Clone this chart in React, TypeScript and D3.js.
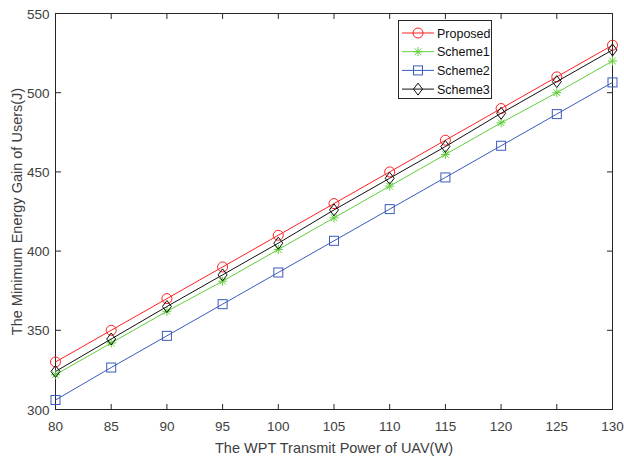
import React from "react";
import * as d3 from "d3";

const powers = [80, 85, 90, 95, 100, 105, 110, 115, 120, 125, 130];
const proposed = [330, 350, 370, 390, 410, 430, 450, 470, 490, 510, 530];
const scheme1 = [322, 342, 362, 381, 401, 421, 441, 461, 481, 500, 520];
const scheme2 = [306, 326.5, 346.5, 366.5, 386.5, 406.5, 426.5, 446.5, 466.5, 486.5, 506.5];
const scheme3 = [324, 344.5, 365, 385, 405, 426, 446, 466, 487, 507, 527];
const xTicks = [80, 85, 90, 95, 100, 105, 110, 115, 120, 125, 130];
const yTicks = [300, 350, 400, 450, 500, 550];
const seriesNames = ["Proposed", "Scheme1", "Scheme2", "Scheme3"];

const colors = ["#ff2020", "#5fcf3a", "#3a5bbd", "#111111"];
const markers = ["circle", "star", "square", "diamond"];

const L = 55.5, R = 612.5, T = 13.5, B = 409.5;
const FONT = "'Liberation Sans', Arial, sans-serif";
const TXT = "#404040";

function Marker({ kind, x, y, color }: { kind: string; x: number; y: number; color: string }) {
  if (kind === "circle") return <circle cx={x} cy={y} r={5} fill="none" stroke={color} strokeWidth={1} />;
  if (kind === "square") return <rect x={x - 4.5} y={y - 4.5} width={9} height={9} fill="none" stroke={color} strokeWidth={1} />;
  if (kind === "diamond")
    return <path d={`M${x},${y - 6}L${x + 4.5},${y}L${x},${y + 6}L${x - 4.5},${y}Z`} fill="none" stroke={color} strokeWidth={1} />;
  const s = 4.5, d = 3.3;
  return (
    <path
      d={`M${x - s},${y}L${x + s},${y}M${x},${y - s}L${x},${y + s}M${x - d},${y - d}L${x + d},${y + d}M${x - d},${y + d}L${x + d},${y - d}`}
      stroke={color}
      strokeWidth={1}
      fill="none"
    />
  );
}

export default function App() {
  const x = d3.scaleLinear().domain([80, 130]).range([L, R]);
  const y = d3.scaleLinear().domain([300, 550]).range([B, T]);
  const data = [proposed, scheme1, scheme2, scheme3];
  const line = d3
    .line<number>()
    .x((_, i) => x(powers[i]))
    .y((d) => y(d));

  return (
    <svg width={624} height={459} style={{ position: "absolute", left: 0, top: 0, background: "#fff" }}>
      <rect x={0} y={0} width={624} height={459} fill="#fff" />
      {/* ticks */}
      {xTicks.map((t) => (
        <g key={"x" + t}>
          <line x1={x(t)} x2={x(t)} y1={B} y2={B - 5.5} stroke="#262626" strokeWidth={1} />
          <line x1={x(t)} x2={x(t)} y1={T} y2={T + 5.5} stroke="#262626" strokeWidth={1} />
          <text x={x(t)} y={B + 21} fontSize={13.5} fontFamily={FONT} fill={TXT} textAnchor="middle">
            {t}
          </text>
        </g>
      ))}
      {yTicks.map((t) => (
        <g key={"y" + t}>
          <line x1={L} x2={L + 5.5} y1={y(t)} y2={y(t)} stroke="#262626" strokeWidth={1} />
          <line x1={R} x2={R - 5.5} y1={y(t)} y2={y(t)} stroke="#262626" strokeWidth={1} />
          <text x={L - 6} y={y(t) + 5} fontSize={13.5} fontFamily={FONT} fill={TXT} textAnchor="end">
            {t}
          </text>
        </g>
      ))}
      <rect x={L} y={T} width={R - L} height={B - T} fill="none" stroke="#262626" strokeWidth={1} />
      {data.map((s, si) => (
        <g key={si}>
          <path d={line(s) || ""} fill="none" stroke={colors[si]} strokeWidth={1} />
          {s.map((v, i) => (
            <Marker key={i} kind={markers[si]} x={x(powers[i])} y={y(v)} color={colors[si]} />
          ))}
        </g>
      ))}
      {/* legend */}
      <rect x={398.5} y={20.5} width={93} height={78} fill="#fff" stroke="#262626" strokeWidth={1} />
      {seriesNames.map((n, i) => {
        const ly = 33 + i * 18.7;
        return (
          <g key={n}>
            <line x1={402} x2={434} y1={ly} y2={ly} stroke={colors[i]} strokeWidth={1} />
            <Marker kind={markers[i]} x={418} y={ly} color={colors[i]} />
            <text x={437} y={ly + 4.5} fontSize={12.5} fontFamily={FONT} fill="#111">
              {n}
            </text>
          </g>
        );
      })}
      <text x={334} y={453} fontSize={14.5} fontFamily={FONT} fill={TXT} textAnchor="middle">
        The WPT Transmit Power of UAV(W)
      </text>
      <text
        transform={`translate(22,${(T + B) / 2}) rotate(-90)`}
        fontSize={14.5}
        fontFamily={FONT}
        fill={TXT}
        textAnchor="middle"
      >
        The Minimum Energy Gain of Users(J)
      </text>
    </svg>
  );
}
